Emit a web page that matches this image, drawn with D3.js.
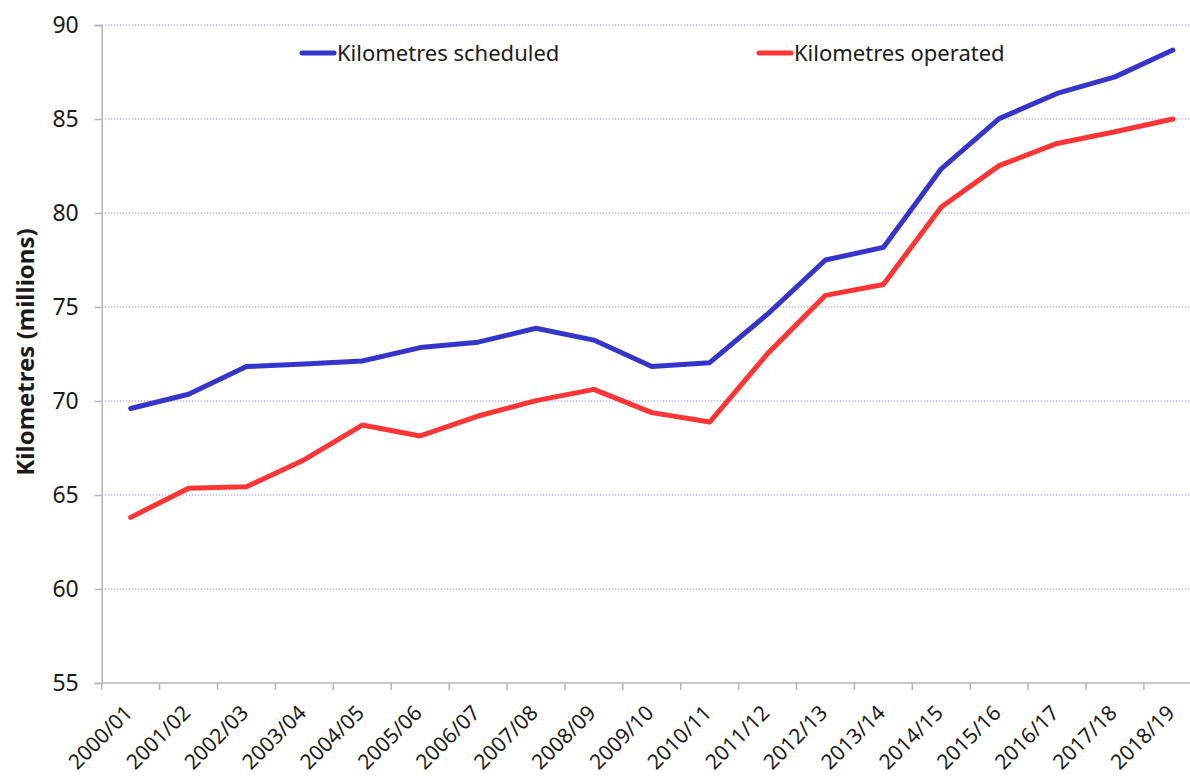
<!DOCTYPE html>
<html>
<head>
<meta charset="utf-8">
<script src="https://cdn.jsdelivr.net/npm/d3@7"></script>
<style>
  body { margin: 0; background: #fff; }
  text { font-family: "Noto Sans", "Open Sans", sans-serif; fill: #1a1a1a; }
</style>
</head>
<body>
<script>
// chart data
var years = ["2000/01", "2001/02", "2002/03", "2003/04", "2004/05", "2005/06", "2006/07",
  "2007/08", "2008/09", "2009/10", "2010/11", "2011/12", "2012/13", "2013/14",
  "2014/15", "2015/16", "2016/17", "2017/18", "2018/19"];
var scheduled = [69.6, 70.36, 71.83, 71.97, 72.13, 72.84, 73.13, 73.87, 73.24, 71.83,
  72.04, 74.62, 77.5, 78.17, 82.35, 85.02, 86.36, 87.24, 88.67];
var operated = [63.81, 65.36, 65.44, 66.88, 68.72, 68.14, 69.2, 70.02, 70.62, 69.38,
  68.88, 72.52, 75.62, 76.2, 80.32, 82.52, 83.7, 84.32, 85.0];
var yTicks = [55, 60, 65, 70, 75, 80, 85, 90];
var seriesNames = ["Kilometres scheduled", "Kilometres operated"];
var seriesColors = ["#3535cc", "#ff3535"];

var chartW = 1190,
  chartH = 776,
  plotLeft = 101.7,
  plotTop = 25,
  plotBottom = 683,
  bandW = 57.9;

window.onload = function() {
  var svg = d3.select("body").append("svg")
    .attr("width", chartW)
    .attr("height", chartH);

  var xScale = d3.scaleBand()
    .domain(years)
    .range([plotLeft, plotLeft + bandW * years.length]);

  var yScale = d3.scaleLinear()
    .domain([55, 90])
    .range([plotBottom, plotTop]);

  // gridlines
  svg.append("g").selectAll("line")
    .data(yTicks.filter(function(d) { return d > 55; }))
    .enter().append("line")
    .attr("x1", plotLeft)
    .attr("x2", chartW)
    .attr("y1", function(d) { return yScale(d); })
    .attr("y2", function(d) { return yScale(d); })
    .attr("stroke", "#a395ee")
    .attr("stroke-width", 1)
    .attr("stroke-dasharray", "1.5,1.5");

  // y axis
  var yAxis = d3.axisLeft(yScale).tickValues(yTicks).tickSize(7).tickPadding(16);
  var gy = svg.append("g")
    .attr("transform", "translate(" + plotLeft + ",0)")
    .call(yAxis);
  gy.select(".domain").attr("stroke", "#b5b5b5").attr("stroke-width", 1.5);
  gy.selectAll(".tick line").attr("stroke", "#b5b5b5").attr("stroke-width", 1.5);
  gy.selectAll(".tick text")
    .style("font-family", "'Noto Sans', sans-serif")
    .style("font-size", "23px")
    .attr("fill", "#1a1a1a");

  // x axis
  var xAxis = d3.axisBottom(xScale).tickSize(0).tickSizeOuter(0);
  var gx = svg.append("g")
    .attr("transform", "translate(0," + plotBottom + ")")
    .call(xAxis);
  gx.select(".domain").remove();
  gx.append("line")
    .attr("x1", plotLeft)
    .attr("x2", chartW)
    .attr("stroke", "#b5b5b5")
    .attr("stroke-width", 1.5);
  gx.selectAll(".xtick")
    .data(years)
    .enter().append("line")
    .attr("x1", function(d) { return xScale(d); })
    .attr("x2", function(d) { return xScale(d); })
    .attr("y1", 0)
    .attr("y2", 7)
    .attr("stroke", "#b5b5b5")
    .attr("stroke-width", 1.5);
  gx.selectAll(".tick text")
    .style("font-family", "'Noto Sans', sans-serif")
    .style("font-size", "21px")
    .attr("fill", "#1a1a1a")
    .attr("text-anchor", "end")
    .attr("dy", "0.35em")
    .attr("y", 0)
    .attr("x", 0)
    .attr("transform", "translate(-2,26) rotate(-45)");

  // lines
  var line = d3.line()
    .x(function(d, i) { return xScale(years[i]) + xScale.bandwidth() / 2; })
    .y(function(d) { return yScale(d); });

  [scheduled, operated].forEach(function(series, i) {
    svg.append("path")
      .datum(series)
      .attr("d", line)
      .attr("fill", "none")
      .attr("stroke", seriesColors[i])
      .attr("stroke-width", 5)
      .attr("stroke-linejoin", "round")
      .attr("stroke-linecap", "round");
  });

  // legend
  var legendX = [302, 759];
  seriesNames.forEach(function(name, i) {
    svg.append("line")
      .attr("x1", legendX[i])
      .attr("x2", legendX[i] + 32)
      .attr("y1", 53)
      .attr("y2", 53)
      .attr("stroke", seriesColors[i])
      .attr("stroke-width", 5)
      .attr("stroke-linecap", "round");
    svg.append("text")
      .attr("x", legendX[i] + 35)
      .attr("y", 61)
      .style("font-size", "22px")
      .text(name);
  });

  // y axis title
  svg.append("text")
    .attr("transform", "rotate(-90)")
    .attr("x", -352)
    .attr("y", 34)
    .style("text-anchor", "middle")
    .style("font-size", "24px")
    .style("font-weight", "bold")
    .text("Kilometres (millions)");
};
</script>
</body>
</html>
